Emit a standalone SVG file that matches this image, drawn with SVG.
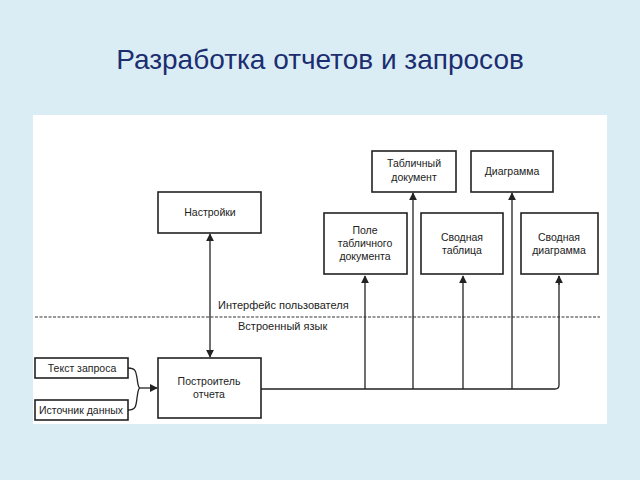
<svg xmlns="http://www.w3.org/2000/svg" width="640" height="480" viewBox="0 0 640 480">
<defs>
<style>
.box{fill:#fff;stroke:#222;stroke-width:1.6}
.t{font-family:"Liberation Sans",Arial,sans-serif;font-size:10.5px;fill:#222;text-anchor:middle}
.lbl{font-family:"Liberation Sans",Arial,sans-serif;font-size:11px;fill:#222}
.ln{fill:none;stroke:#222;stroke-width:1.3}
</style>
<marker id="ah" viewBox="0 0 10 10" refX="9" refY="5" markerWidth="8" markerHeight="8" markerUnits="userSpaceOnUse" orient="auto-start-reverse">
<path d="M0,0 L10,5 L0,10 z" fill="#222"/>
</marker>
</defs>
<rect width="640" height="480" fill="#dbedf4"/>
<text x="320" y="69" font-family="'Liberation Sans',Arial,sans-serif" font-size="28" fill="#1c2d70" text-anchor="middle">Разработка отчетов и запросов</text>
<rect x="33" y="115" width="574" height="309" fill="#fff"/>

<line x1="35" y1="317" x2="600" y2="317" stroke="#333" stroke-width="1" stroke-dasharray="3,1.5"/>
<text class="lbl" x="218" y="309">Интерфейс пользователя</text>
<text class="lbl" x="238" y="330">Встроенный язык</text>

<g id="connectors">
<line class="ln" x1="210" y1="234" x2="210" y2="357" marker-start="url(#ah)" marker-end="url(#ah)"/>
<path class="ln" d="M128,368 C136,368 136,372 137,378 C138,384 138,388 140,388 M128,410 C136,410 136,406 137,398 C138,392 138,388 140,388"/>
<line class="ln" x1="140" y1="388" x2="157" y2="388" marker-end="url(#ah)"/>
<path class="ln" d="M261,389 H555 Q559,389 559,385 V276"/>
<line class="ln" x1="365" y1="389" x2="365" y2="276" marker-end="url(#ah)"/>
<line class="ln" x1="413" y1="389" x2="413" y2="193" marker-end="url(#ah)"/>
<line class="ln" x1="463" y1="389" x2="463" y2="276" marker-end="url(#ah)"/>
<line class="ln" x1="512" y1="389" x2="512" y2="193" marker-end="url(#ah)"/>
<line x1="559" y1="285" x2="559" y2="276" class="ln" marker-end="url(#ah)"/>
</g>

<g id="nastroyki">
<rect class="box" x="158" y="192" width="103" height="41"/>
<text class="t" x="210" y="216">Настройки</text>
</g>
<g id="postroitel">
<rect class="box" x="158" y="358" width="103" height="60"/>
<text class="t" x="209" y="385">Построитель</text>
<text class="t" x="209" y="398">отчета</text>
</g>
<g id="tekst">
<rect class="box" x="35" y="358" width="93" height="20"/>
<text class="t" x="82" y="372">Текст запроса</text>
</g>
<g id="istochnik">
<rect class="box" x="35" y="400" width="93" height="20"/>
<text class="t" x="81" y="414">Источник данных</text>
</g>
<g id="pole">
<rect class="box" x="324" y="213" width="83" height="61"/>
<text class="t" x="365" y="234">Поле</text>
<text class="t" x="365" y="247">табличного</text>
<text class="t" x="365" y="260">документа</text>
</g>
<g id="svod_tabl">
<rect class="box" x="421" y="213" width="82" height="61"/>
<text class="t" x="462" y="241">Сводная</text>
<text class="t" x="462" y="254">таблица</text>
</g>
<g id="svod_diag">
<rect class="box" x="521" y="213" width="77" height="61"/>
<text class="t" x="559" y="241">Сводная</text>
<text class="t" x="559" y="254">диаграмма</text>
</g>
<g id="tabl_doc">
<rect class="box" x="372" y="151" width="84" height="41"/>
<text class="t" x="414" y="167">Табличный</text>
<text class="t" x="414" y="181">документ</text>
</g>
<g id="diagramma">
<rect class="box" x="471" y="151" width="82" height="41"/>
<text class="t" x="512" y="175">Диаграмма</text>
</g>
</svg>
